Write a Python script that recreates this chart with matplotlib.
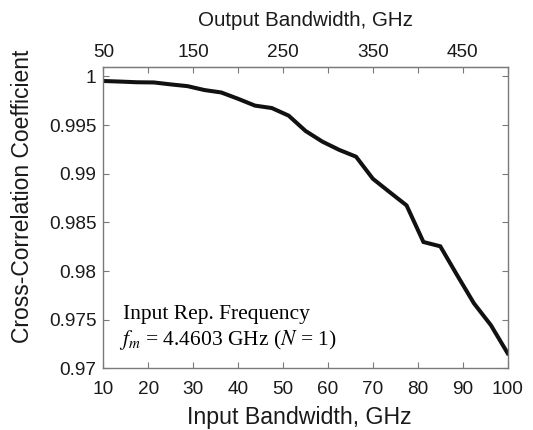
import numpy as np
import matplotlib.pyplot as plt
from matplotlib.ticker import FixedLocator, FuncFormatter

# data
input_bw = [10, 13.75, 17.5, 21.25, 25, 28.75, 32.5, 36.25, 40, 43.75,
            47.5, 51.25, 55, 58.75, 62.5, 66.25, 70, 73.75, 77.5, 81.25,
            85, 88.75, 92.5, 96.25, 100]
xcorr = [0.99953, 0.99947, 0.99940, 0.99938, 0.99918, 0.99900, 0.99860,
         0.99835, 0.99770, 0.99700, 0.99675, 0.99597, 0.99440, 0.99330,
         0.99245, 0.99175, 0.98948, 0.98810, 0.98674, 0.98298, 0.98254,
         0.97957, 0.97667, 0.97444, 0.97154]
bottom_ticks = [10, 20, 30, 40, 50, 60, 70, 80, 90, 100]
y_ticks = [0.97, 0.975, 0.98, 0.985, 0.99, 0.995, 1.0]
top_ticks = [50, 100, 150, 200, 250, 300, 350, 400, 450, 500]
top_labelled = [50, 150, 250, 350, 450]

plt.rcParams['font.family'] = ['Liberation Sans', 'DejaVu Sans']
plt.rcParams['mathtext.fontset'] = 'stix'

fig = plt.figure(figsize=(5.33, 4.30), dpi=100)
ax = fig.add_axes([0.1938, 0.1435, 0.7587, 0.7014])

ax.plot(input_bw, xcorr, color='#111111', lw=2.9, solid_joinstyle='miter')

ax.set_xlim(10, 100)
ax.set_ylim(0.97, 1.001)
ax.set_xticks(bottom_ticks)
ax.set_yticks(y_ticks)
ax.yaxis.set_major_formatter(FuncFormatter(lambda v, p: '%g' % v))

spine_col = '#7a7a7a'
txt_col = '#1a1a1a'
for s in ax.spines.values():
    s.set_color(spine_col)
    s.set_linewidth(1.0)
ax.tick_params(direction='in', length=4, width=0.8, color=spine_col,
               labelsize=13.7, labelcolor=txt_col, right=True)
ax.tick_params(axis='x', pad=9)
ax.tick_params(axis='y', pad=5)

# top axis: output bandwidth = 5 x input bandwidth
top = ax.secondary_xaxis('top', functions=(lambda x: 5 * x, lambda x: x / 5))
top.xaxis.set_major_locator(FixedLocator(top_ticks))
top.xaxis.set_major_formatter(FuncFormatter(
    lambda v, p: '%d' % round(v) if round(v) in top_labelled else ''))
top.spines['top'].set_color(spine_col)
top.tick_params(direction='in', length=4, width=0.8, color=spine_col,
                labelsize=13.7, labelcolor=txt_col, pad=4)
top.set_xlabel('Output Bandwidth, GHz', fontsize=14.8, color=txt_col,
               labelpad=13)

ax.set_xlabel('Input Bandwidth, GHz', fontsize=16.7, color=txt_col,
              labelpad=6)
ax.xaxis.label.set_x(0.484)
ax.set_ylabel('Cross-Correlation Coefficient', fontsize=16.5,
              color=txt_col, labelpad=11)
ax.yaxis.label.set_y(0.57)

ax.text(0.049, 0.1625, 'Input Rep. Frequency', transform=ax.transAxes,
        family='Liberation Serif', fontsize=15.5, va='baseline', ha='left')
ax.text(0.039, 0.077, r'$f_m$ = 4.4603 GHz ($N$ = 1)', transform=ax.transAxes,
        family='Liberation Serif', fontsize=15.5, va='baseline', ha='left')

fig.savefig('out.png', dpi=100)
